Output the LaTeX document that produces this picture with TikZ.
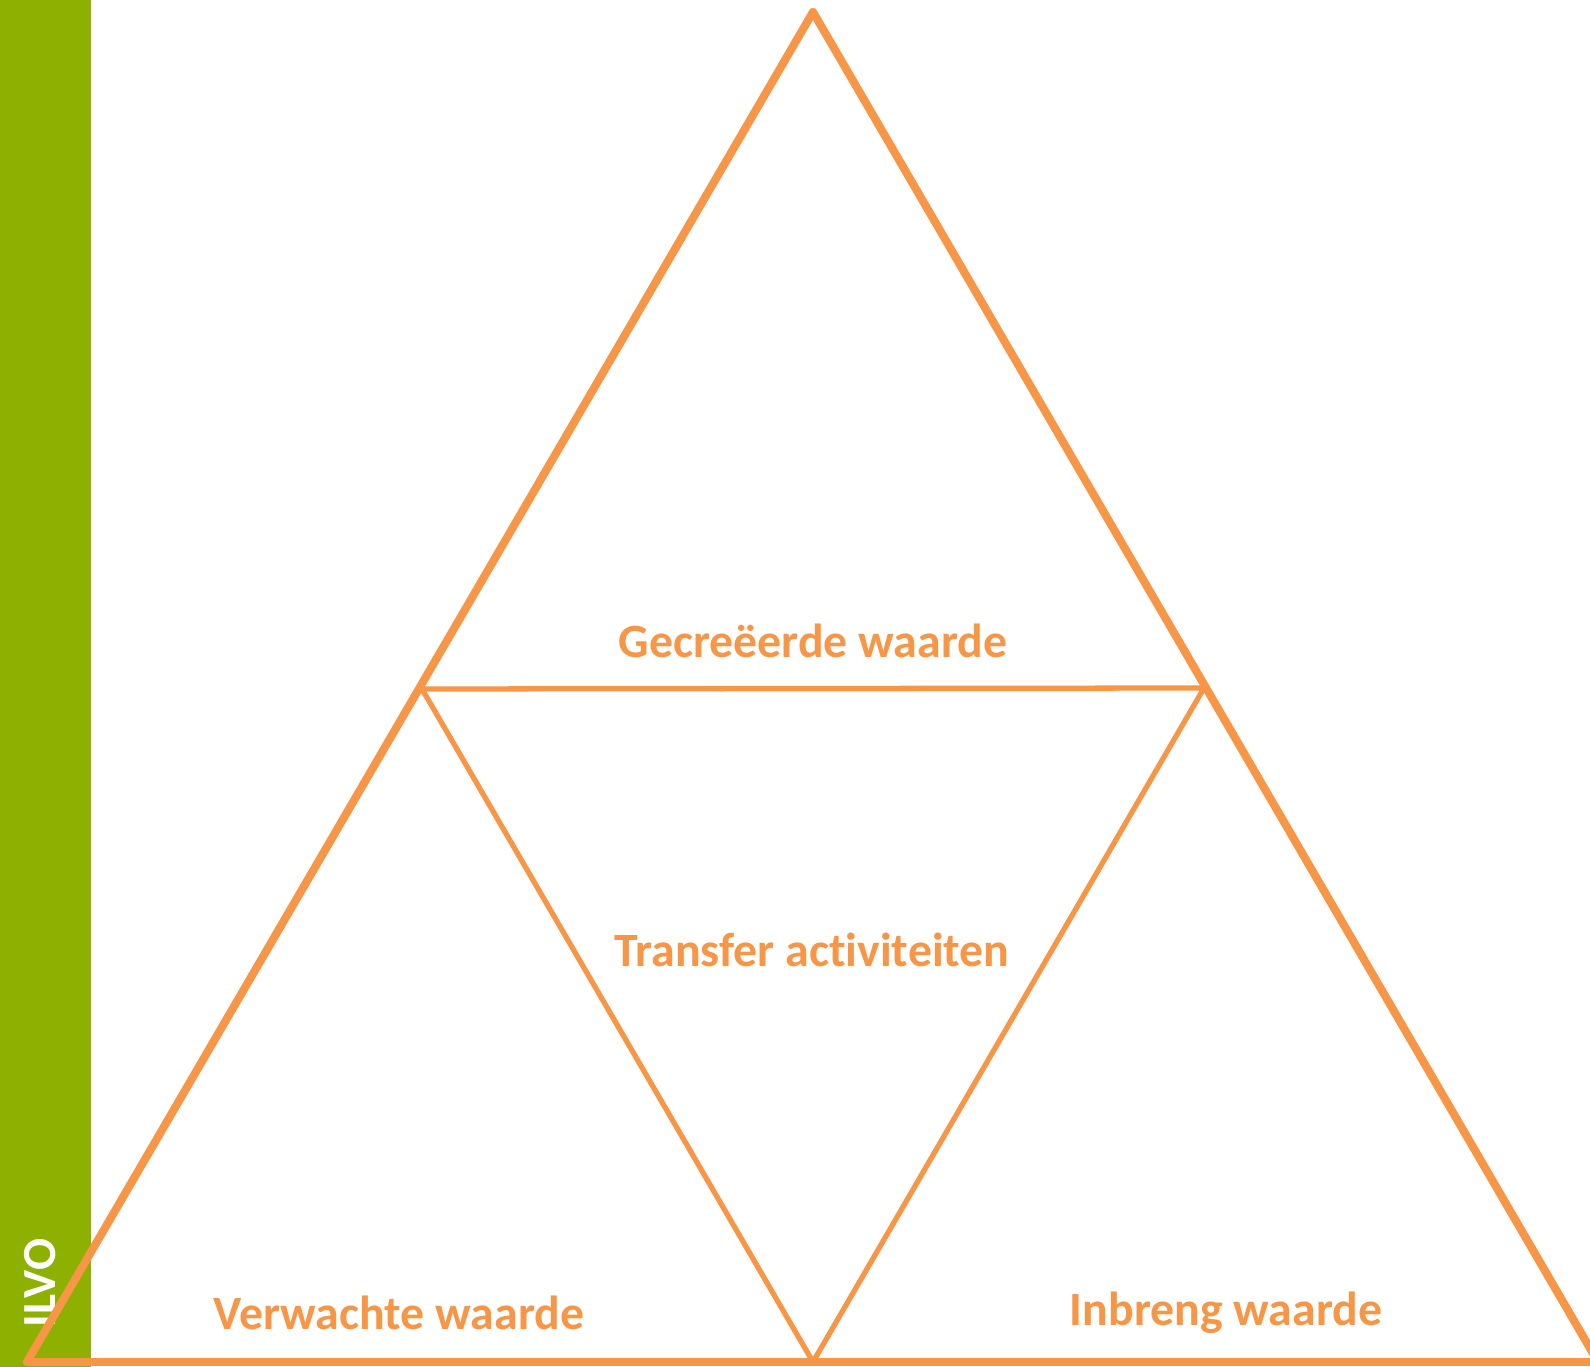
\documentclass[tikz,border=0pt]{standalone}
\usepackage{fontspec}
\setmainfont{Carlito}[Ligatures=NoCommon]
\usepackage{xcolor}
\usetikzlibrary{positioning}

\definecolor{ilvogreen}{RGB}{142,176,0}
\definecolor{waardeorange}{RGB}{247,150,70}

\tikzset{
  outerline/.style={draw=waardeorange, line width=2.3pt, line join=round, line cap=round},
  innerline/.style={draw=waardeorange, line width=1.5pt, line join=round},
  waardelabel/.style={text=waardeorange, font=\fontsize{13.6}{16}\selectfont\bfseries}
}

\begin{document}
\begin{tikzpicture}[x=0.01cm, y=-0.01cm]
\useasboundingbox (0,0) rectangle (1590,1367);

\fill[ilvogreen] (0,0) rectangle (91,1367);
\node[rotate=90, text=white, font=\fontsize{13.5}{16}\selectfont\bfseries] (ilvo) at (40,1283) {ILVO};

\coordinate (top) at (813,12);
\coordinate (left) at (27,1362);
\coordinate (right) at (1598,1362);
\coordinate (midleft) at (422,689);
\coordinate (midright) at (1204,688);
\coordinate (midbottom) at (813,1362);

\draw[outerline] (left) -- (top) -- (right);
\draw[outerline] (left) -- (right);
\draw[innerline] (midleft) -- (midright) -- (midbottom) -- cycle;

\node[waardelabel] (gecreeerd) at (813,641) {Gecreëerde waarde};
\node[waardelabel] (transfer) at (812,950) {Transfer activiteiten};
\node[waardelabel] (verwacht) at (399,1313) {Verwachte waarde};
\node[waardelabel] (inbreng) at (1226,1313) {Inbreng waarde};
\end{tikzpicture}
\end{document}
